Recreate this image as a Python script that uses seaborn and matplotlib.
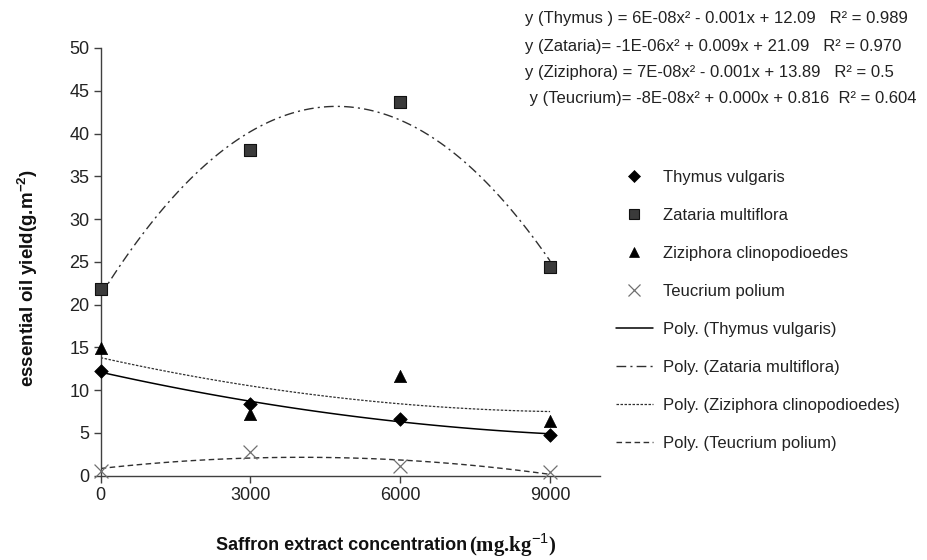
import numpy as np
import pandas as pd
import matplotlib
matplotlib.use("Agg")
import matplotlib.pyplot as plt
from matplotlib.lines import Line2D
import seaborn as sns

# ---------------- data ----------------
concentration = [0, 3000, 6000, 9000]
thymus = [12.2, 8.4, 6.6, 4.8]
zataria = [21.8, 38.1, 43.7, 24.4]
ziziphora = [14.9, 7.2, 11.7, 6.4]
teucrium = [0.6, 2.8, 1.1, 0.4]

species = ["Thymus vulgaris", "Zataria multiflora",
           "Ziziphora clinopodioedes", "Teucrium polium"]
x_ticks = [0, 3000, 6000, 9000]
y_ticks = [0, 5, 10, 15, 20, 25, 30, 35, 40, 45, 50]
equations = [
    "y (Thymus ) = 6E-08x\u00b2 - 0.001x + 12.09   R\u00b2 = 0.989",
    "y (Zataria)= -1E-06x\u00b2 + 0.009x + 21.09   R\u00b2 = 0.970",
    "y (Ziziphora) = 7E-08x\u00b2 - 0.001x + 13.89   R\u00b2 = 0.5",
    " y (Teucrium)= -8E-08x\u00b2 + 0.000x + 0.816  R\u00b2 = 0.604",
]

series = [thymus, zataria, ziziphora, teucrium]

# ---------------- style ----------------
sns.set_style("white")
plt.rcParams["font.family"] = ["Liberation Sans", "DejaVu Sans"]
plt.rcParams["mathtext.fontset"] = "custom"
plt.rcParams["mathtext.rm"] = "Liberation Sans"
plt.rcParams["mathtext.bf"] = "Liberation Sans:bold"

marker_styles = [
    dict(marker="D", s=48, color="black", edgecolor="black", linewidth=0.5),
    dict(marker="s", s=64, color="#3a3a3a", edgecolor="#111111", linewidth=0.8),
    dict(marker="^", s=78, color="black", edgecolor="black", linewidth=0.5),
    dict(marker="x", s=100, color="#707070", linewidth=0.9),
]
line_styles = [
    dict(color="black", lw=1.1, ls="-"),
    dict(color="#303030", lw=1.0, ls=(0, (7, 3, 1.5, 3))),
    dict(color="#303030", lw=0.9, ls=(0, (2, 1.2))),
    dict(color="#303030", lw=1.0, ls=(0, (4, 2.5))),
]

W, H = 927, 560
fig = plt.figure(figsize=(W / 100, H / 100), dpi=100)
left, right, top, bottom = 100.7, 600, 48, 475.7
ax = fig.add_axes([left / W, 1 - bottom / H, (right - left) / W, (bottom - top) / H])

for vals in series:
    sns.regplot(x=np.array(concentration, float), y=np.array(vals, float), order=2,
                ci=None, scatter=False, truncate=True, ax=ax)
# style the quadratic trend lines
for line, st in zip(ax.lines, line_styles):
    line.set_color(st["color"]); line.set_linewidth(st["lw"]); line.set_linestyle(st["ls"])

for vals, ms in zip(series, marker_styles):
    sns.scatterplot(x=concentration, y=vals, ax=ax, clip_on=False, zorder=5, **ms)

ax.set_xlim(0, 10000)
ax.set_ylim(0, 50)
ax.set_xticks(x_ticks)
ax.set_xticklabels([str(t) for t in x_ticks])
ax.set_yticks(y_ticks)
ax.set_xlabel("")
ax.set_ylabel("")
for sp in ["top", "right"]:
    ax.spines[sp].set_visible(False)
for sp in ["left", "bottom"]:
    ax.spines[sp].set_color("#404040")
    ax.spines[sp].set_linewidth(1.0)
ax.tick_params(axis="both", which="major", direction="out", length=5, width=1,
               color="#404040", labelsize=13, labelcolor="#222222", pad=3,
               left=True, bottom=True)

# axis labels
fig.text(28 / W, 1 - 278 / H, "essential oil yield(g.m$^{\\mathbf{-2}}$)",
         rotation=90, ha="center", va="center", fontsize=13.5, fontweight="bold",
         color="#111111")
t1 = fig.text(216 / W, 1 - 545 / H, "Saffron extract concentration ",
              ha="left", va="center", fontsize=13, fontweight="bold", color="#111111")
ax.annotate("(mg.kg$^{-1}$)", xy=(1, 0.5), xycoords=t1, xytext=(-2, 0),
            textcoords="offset points", ha="left", va="center",
            fontsize=15, fontweight="bold", family="Liberation Serif", color="#111111")

# trend equations
eq_y = [19, 46, 73, 99]
for yy, s in zip(eq_y, equations):
    fig.text(525 / W, 1 - yy / H, s, ha="left", va="center", fontsize=12, color="#222222")

# legend
handles = []
for ms in marker_styles:
    handles.append(Line2D([], [], ls="none", marker=ms["marker"],
                          markersize=np.sqrt(ms["s"]) * 0.85,
                          markerfacecolor=ms["color"],
                          markeredgecolor=ms.get("edgecolor", ms["color"]),
                          markeredgewidth=ms["linewidth"]))
for st in line_styles:
    handles.append(Line2D([], [], color=st["color"], lw=st["lw"], ls=st["ls"]))
labels = species + ["Poly. (" + s + ")" for s in species]
fig.legend(handles, labels, loc="upper left", bbox_to_anchor=(616 / W, 1 - 170 / H),
           frameon=False, fontsize=12, handlelength=2.2, handletextpad=0.6,
           labelspacing=1.38, borderaxespad=0, borderpad=0, labelcolor="#222222")

fig.savefig("out.png", dpi=100)
